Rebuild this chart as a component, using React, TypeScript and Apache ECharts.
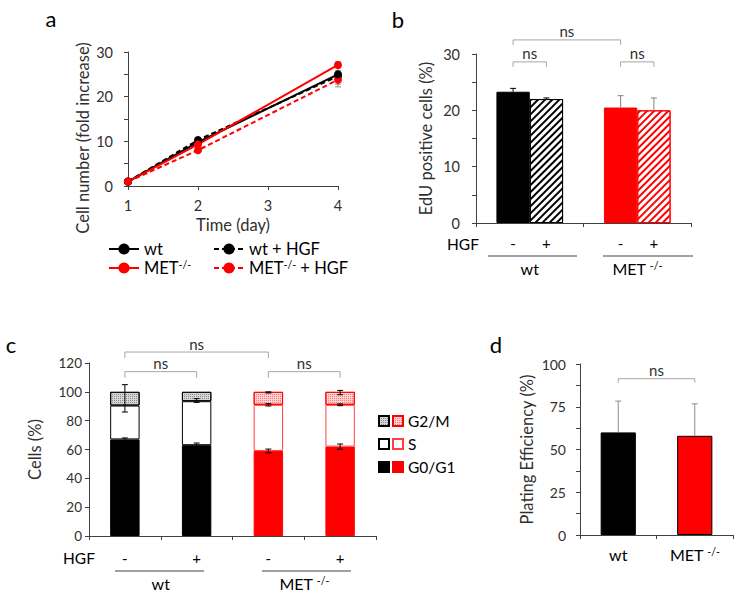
import React, { useEffect, useRef } from 'react';
import * as echarts from 'echarts';

const FONT = 'Lato, "Open Sans", sans-serif';
const AX = '#404040';
const TXT = '#303030';
const RED = '#ff0000';
const BR = '#a6a6a6';
const NAME_FS = 16.5;

// ---------- Panel a ----------
const aDays = [1, 2, 4];
const aWt = [1, 9.8, 25.0];
const aWtHGF = [1, 10.3, 24.6];
const aMet = [1, 9.3, 27.1];
const aMetHGF = [1, 8.0, 23.8];
const aWtErr = [0.1, 0.4, 2.8];
const aWtHGFErr = [0.1, 0.4, 1.2];
const aMetErr = [0.1, 0.5, 0.7];
const aMetHGFErr = [0.1, 0.4, 1.0];

// ---------- Panel b ----------
const bGroups = ['wt', 'MET -/-'];
const bNoHGF = [23.3, 20.5];
const bNoHGFErr = [0.6, 2.1];
const bHGF = [22.0, 20.0];
const bHGFErr = [0.2, 2.2];
const bMarks = ['-', '+'];
// [cat1, bar1, cat2, bar2, y]
const bBrackets = [
  [0, 0, 1, 0, 32.5],
  [0, 0, 0, 1, 28.6],
  [1, 0, 1, 1, 28.6],
];

// ---------- Panel c ----------
const cConditions = ['wt -', 'wt +', 'MET -', 'MET +'];
const cHGF = ['-', '+', '-', '+'];
const cGroups = ['wt', 'MET -/-'];
const cWtG0 = [67, 63, null, null];
const cWtS = [23.5, 30.5, null, null];
const cWtG2 = [9.5, 6.5, null, null];
const cMetG0 = [null, null, 59, 62];
const cMetS = [null, null, 32, 29];
const cMetG2 = [null, null, 9, 9];
// [category, centre, error]
const cErr = [
  [0, 67, 1.0], [0, 95.5, 9.5],
  [1, 63, 1.5], [1, 94, 1.3],
  [2, 59, 1.3], [2, 91, 0.8], [2, 99.6, 0.4],
  [3, 62, 1.8], [3, 91, 0.6], [3, 99.5, 1.5],
];
const cBrackets = [
  [0, 0, 2, 0, 127.6],
  [0, 0, 1, 0, 114],
  [2, 0, 3, 0, 114],
];
const cLegend = ['G2/M', 'S', 'G0/G1'];

// ---------- Panel d ----------
const dGroups = ['wt', 'MET -/-'];
const dVals = [60, 58];
const dErr = [18.3, 18.7];
const dBrackets = [[0, 0, 1, 0, 91.4]];

const supFmt = (s: string) => s.replace('-/-', '{sup|-/-}');
const rich = { sup: { fontSize: 10.5, lineHeight: 8, verticalAlign: 'top', fontFamily: FONT, color: '#000' } };

const lineStyle = { color: AX, width: 1 };
const tick = { show: true, length: 4, lineStyle };
const lab = { color: TXT, fontSize: 14.5, fontFamily: FONT };
const nameStyle = { fontSize: NAME_FS, color: TXT, fontFamily: FONT };

const B_W = 0.31;
const bOff = [-B_W / 2, B_W / 2];

const hatch = (color: string) => ({
  symbol: 'rect', symbolSize: 1, color, dashArrayX: [1, 0], dashArrayY: [2, 3], rotation: -Math.PI / 4,
});
const dots = (color: string) => ({
  symbol: 'rect', symbolSize: 1, color, dashArrayX: [1, 1], dashArrayY: [1, 1], rotation: 0,
});

function errRender(color: string, cap: number, upOnly: boolean, offsets?: number[]) {
  return (params: any, api: any) => {
    const cat = api.value(0);
    const v = api.value(1);
    const e = api.value(2);
    const bi = api.value(3);
    const band = offsets ? api.size([1, 0])[0] : 0;
    const off = offsets ? offsets[bi] * band : 0;
    const p = api.coord([cat, v]);
    const hi = api.coord([cat, v + e]);
    const lo = upOnly ? p : api.coord([cat, v - e]);
    const x = p[0] + off;
    const st = { stroke: color, lineWidth: 1 };
    const kids: any[] = [
      { type: 'line', shape: { x1: x, y1: lo[1], x2: x, y2: hi[1] }, style: st },
      { type: 'line', shape: { x1: x - cap, y1: hi[1], x2: x + cap, y2: hi[1] }, style: st },
    ];
    if (!upOnly) kids.push({ type: 'line', shape: { x1: x - cap, y1: lo[1], x2: x + cap, y2: lo[1] }, style: st });
    return { type: 'group', children: kids };
  };
}

function bracketRender(tickLen: number) {
  return (params: any, api: any) => {
    const band = api.size([1, 0])[0];
    const y = api.value(4);
    const p1 = api.coord([api.value(0), y]);
    const p2 = api.coord([api.value(2), y]);
    const x1 = p1[0] + api.value(1) * band;
    const x2 = p2[0] + api.value(3) * band;
    const yy = p1[1];
    return {
      type: 'group',
      children: [
        {
          type: 'polyline',
          shape: { points: [[x1, yy + tickLen], [x1, yy], [x2, yy], [x2, yy + tickLen]] },
          style: { stroke: BR, fill: null, lineWidth: 1 },
        },
        {
          type: 'text',
          x: (x1 + x2) / 2,
          y: yy - 1,
          style: {
            text: 'ns', fill: TXT, fontSize: 15, fontFamily: FONT,
            textAlign: 'center', textVerticalAlign: 'bottom', align: 'center', verticalAlign: 'bottom',
          },
        },
      ],
    };
  };
}

function pairs(xs: number[], ys: number[]) {
  return xs.map((x, i) => [x, ys[i]]);
}

function buildOption(): any {
  const lineSeries = (name: string, ys: number[], color: string, dashed: boolean) => ({
    name, type: 'line', xAxisIndex: 0, yAxisIndex: 0, data: pairs(aDays, ys),
    symbol: 'circle', symbolSize: 8, itemStyle: { color },
    lineStyle: { color, width: 2, type: dashed ? [5, 3] : 'solid' }, z: 3,
  });
  const aErrSeries = (name: string, ys: number[], es: number[]) => ({
    name, type: 'custom', xAxisIndex: 0, yAxisIndex: 0, z: 2, silent: true,
    data: aDays.map((d, i) => [d, ys[i], es[i], 0]),
    encode: { x: 0, y: 1 },
    renderItem: errRender('#8c8c8c', 3, false),
  });
  const cBar = (name: string, data: (number | null)[], style: any) => ({
    name, type: 'bar', stack: 'c', xAxisIndex: 2, yAxisIndex: 2, barWidth: '41%',
    data: data.map((v) => (v == null ? '-' : v)), itemStyle: style,
  });

  const legendA = (left: number, data: string[]) => ({
    left, top: 240, orient: 'vertical', itemWidth: 30, itemHeight: 14, itemGap: 1, padding: 0,
    data, selectedMode: false, formatter: supFmt,
    textStyle: { fontSize: 16.5, lineHeight: 18, fontFamily: FONT, color: '#000', rich },
  });
  const legendC = (left: number, data: string[], withText: boolean) => ({
    left, top: 412, orient: 'vertical', itemWidth: 10, itemHeight: 10, itemGap: 5, padding: 0,
    icon: 'rect', data, selectedMode: false,
    formatter: withText ? (n: string) => n.replace('MET ', '') : () => ' ',
    textStyle: { fontSize: 15.5, lineHeight: 18, fontFamily: FONT, color: '#000' },
  });

  return {
    animation: false,
    backgroundColor: '#fff',
    grid: [
      { left: 128, top: 52, width: 210, height: 134, outerBoundsMode: 'none' },
      { left: 476, top: 54, width: 215, height: 169, outerBoundsMode: 'none' },
      { left: 89, top: 363, width: 287, height: 173, outerBoundsMode: 'none' },
      { left: 580, top: 364, width: 153, height: 171, outerBoundsMode: 'none' },
    ],
    legend: [
      legendA(108, ['wt', 'MET-/-']),
      legendA(213, ['wt + HGF', 'MET-/- + HGF']),
      legendC(378, cLegend.map((s) => 'wt ' + s), false),
      legendC(392, cLegend.map((s) => 'MET ' + s), true),
    ],
    xAxis: [
      {
        gridIndex: 0, type: 'value', min: 1, max: 4, interval: 1,
        axisLine: { show: true, onZero: false, lineStyle }, axisTick: tick,
        axisLabel: { ...lab, margin: 12 }, splitLine: { show: false },
        name: 'Time (day)', nameLocation: 'middle', nameGap: 30, nameTextStyle: nameStyle,
      },
      {
        gridIndex: 1, type: 'category', data: bGroups,
        axisLine: { show: true, lineStyle }, axisTick: tick,
        axisLabel: { ...lab, interval: 0, fontSize: 16, color: '#000', margin: 37, formatter: supFmt, rich },
      },
      {
        gridIndex: 2, type: 'category', data: cConditions,
        axisLine: { show: true, lineStyle }, axisTick: tick,
        axisLabel: { ...lab, interval: 0, fontSize: 15, color: '#000', margin: 14, formatter: (_v: string, i: number) => cHGF[i] },
      },
      {
        gridIndex: 2, type: 'category', data: cGroups, position: 'bottom', offset: 0,
        axisLine: { show: false }, axisTick: { show: false },
        axisLabel: { ...lab, interval: 0, fontSize: 16, color: '#000', margin: 39, formatter: supFmt, rich },
      },
      {
        gridIndex: 3, type: 'category', data: dGroups,
        axisLine: { show: true, lineStyle }, axisTick: tick,
        axisLabel: { ...lab, interval: 0, fontSize: 16, color: '#000', margin: 11, formatter: supFmt, rich },
      },
    ],
    yAxis: [
      {
        gridIndex: 0, type: 'value', min: 0, max: 30, interval: 10,
        axisLine: { show: true, lineStyle }, axisTick: tick,
        minorTick: { show: true, splitNumber: 2, length: 4, lineStyle },
        axisLabel: { ...lab, margin: 15 }, splitLine: { show: false }, minorSplitLine: { show: false },
      },
      {
        gridIndex: 1, type: 'value', min: 0, max: 30, interval: 10,
        axisLine: { show: true, lineStyle }, axisTick: tick,
        minorTick: { show: true, splitNumber: 2, length: 4, lineStyle },
        axisLabel: { ...lab, margin: 16 }, splitLine: { show: false }, minorSplitLine: { show: false },
        name: 'EdU positive cells (%)', nameLocation: 'middle', nameGap: 42, nameTextStyle: nameStyle,
      },
      {
        gridIndex: 2, type: 'value', min: 0, max: 120, interval: 20,
        axisLine: { show: true, lineStyle }, axisTick: tick,
        axisLabel: { ...lab, fontSize: 13.5, margin: 7 }, splitLine: { show: false },
        name: 'Cells (%)', nameLocation: 'middle', nameGap: 46, nameTextStyle: nameStyle,
      },
      {
        gridIndex: 3, type: 'value', min: 0, max: 100, interval: 25,
        axisLine: { show: true, lineStyle }, axisTick: tick,
        minorTick: { show: true, splitNumber: 2, length: 4, lineStyle },
        axisLabel: { ...lab, fontSize: 14, margin: 14 }, splitLine: { show: false }, minorSplitLine: { show: false },
        name: 'Plating Efficiency (%)', nameLocation: 'middle', nameGap: 45, nameTextStyle: nameStyle,
      },
    ],
    series: [
      // Panel a
      aErrSeries('err wt', aWt, aWtErr),
      aErrSeries('err wt HGF', aWtHGF, aWtHGFErr),
      aErrSeries('err met', aMet, aMetErr),
      aErrSeries('err met HGF', aMetHGF, aMetHGFErr),
      lineSeries('wt + HGF', aWtHGF, '#000', true),
      lineSeries('MET-/- + HGF', aMetHGF, RED, true),
      lineSeries('wt', aWt, '#000', false),
      lineSeries('MET-/-', aMet, RED, false),

      // Panel b
      {
        name: 'b no HGF', type: 'bar', xAxisIndex: 1, yAxisIndex: 1, barWidth: B_W * 100 + '%', barGap: '0%',
        data: bNoHGF.map((v, i) => ({
          value: v,
          itemStyle: { color: i ? RED : '#000', borderColor: i ? RED : '#000', borderWidth: 1 },
        })),
        label: { show: true, position: 'bottom', distance: 12, formatter: bMarks[0], fontSize: 15, fontFamily: FONT, color: '#000' },
      },
      {
        name: 'b HGF', type: 'bar', xAxisIndex: 1, yAxisIndex: 1, barWidth: B_W * 100 + '%', barGap: '0%',
        data: bHGF.map((v, i) => ({
          value: v,
          itemStyle: {
            color: '#fff', borderColor: i ? RED : '#000', borderWidth: 1,
            decal: hatch(i ? RED : '#000'),
          },
        })),
        label: { show: true, position: 'bottom', distance: 12, formatter: bMarks[1], fontSize: 15, fontFamily: FONT, color: '#000' },
      },
      {
        name: 'b err', type: 'custom', xAxisIndex: 1, yAxisIndex: 1, z: 4, silent: true,
        data: [
          ...bNoHGF.map((v, i) => [i, v, bNoHGFErr[i], 0]),
          ...bHGF.map((v, i) => [i, v, bHGFErr[i], 1]),
        ],
        encode: { x: 0, y: 1 },
        renderItem: (params: any, api: any) => {
          const color = api.value(0) === 0 ? '#000' : '#808080';
          return errRender(color, 3, true, bOff)(params, api);
        },
      },
      {
        name: 'b brackets', type: 'custom', xAxisIndex: 1, yAxisIndex: 1, z: 4, silent: true,
        data: bBrackets.map((b) => [b[0], bOff[b[1]], b[2], bOff[b[3]], b[4]]),
        encode: { x: 0, y: 4 },
        renderItem: bracketRender(5),
      },

      // Panel c
      cBar('wt G0/G1', cWtG0, { color: '#000', borderColor: '#000', borderWidth: 1 }),
      cBar('wt S', cWtS, { color: '#fff', borderColor: '#000', borderWidth: 1 }),
      cBar('wt G2/M', cWtG2, { color: '#d6d6d6', borderColor: '#000', borderWidth: 1, decal: dots('#8a8a8a') }),
      cBar('MET G0/G1', cMetG0, { color: RED, borderColor: RED, borderWidth: 1 }),
      cBar('MET S', cMetS, { color: '#fff', borderColor: '#ff4040', borderWidth: 1 }),
      cBar('MET G2/M', cMetG2, { color: '#ffd2d2', borderColor: RED, borderWidth: 1, decal: dots('#ff7a7a') }),
      {
        name: 'c err', type: 'custom', xAxisIndex: 2, yAxisIndex: 2, z: 4, silent: true,
        data: cErr.map((e) => [e[0], e[1], e[2], 0]),
        encode: { x: 0, y: 1 },
        renderItem: errRender('#000', 3, false),
      },
      {
        name: 'c brackets', type: 'custom', xAxisIndex: 2, yAxisIndex: 2, z: 4, silent: true,
        data: cBrackets,
        encode: { x: 0, y: 4 },
        renderItem: bracketRender(6),
      },

      // Panel d
      {
        name: 'd bars', type: 'bar', xAxisIndex: 4, yAxisIndex: 3, barWidth: '46%',
        data: dVals.map((v, i) => ({
          value: v, itemStyle: { color: i ? RED : '#000', borderColor: '#000', borderWidth: 1 },
        })),
      },
      {
        name: 'd err', type: 'custom', xAxisIndex: 4, yAxisIndex: 3, z: 4, silent: true,
        data: dVals.map((v, i) => [i, v, dErr[i], 0]),
        encode: { x: 0, y: 1 },
        renderItem: errRender('#8c8c8c', 3, true),
      },
      {
        name: 'd brackets', type: 'custom', xAxisIndex: 4, yAxisIndex: 3, z: 4, silent: true,
        data: dBrackets,
        encode: { x: 0, y: 4 },
        renderItem: bracketRender(4),
      },
    ],
    graphic: [
      ...[
        ['a', 51, 18], ['b', 398, 19], ['c', 11, 344], ['d', 496, 344],
      ].map(([t, x, y]) => ({
        type: 'text', x, y,
        style: {
          text: t, fontSize: 22, fontFamily: FONT, fill: '#000',
          textAlign: 'center', textVerticalAlign: 'middle', align: 'center', verticalAlign: 'middle',
        },
      })),
      {
        type: 'text', x: 82.5, y: 138, rotation: Math.PI / 2,
        style: {
          text: 'Cell number (fold increase)', fontSize: NAME_FS, fontFamily: FONT, fill: TXT,
          textAlign: 'center', textVerticalAlign: 'middle', align: 'center', verticalAlign: 'middle',
        },
      },
      ...[[463, 244], [79, 558]].map(([x, y]) => ({
        type: 'text', x, y,
        style: {
          text: 'HGF', fontSize: 15.5, fontFamily: FONT, fill: '#000',
          textAlign: 'center', textVerticalAlign: 'middle', align: 'center', verticalAlign: 'middle',
        },
      })),
      ...[
        [488, 577, 256], [603, 693, 256], [115, 204, 571], [262, 351, 571],
      ].map(([x1, x2, y]) => ({
        type: 'line', shape: { x1, y1: y, x2, y2: y }, style: { stroke: AX, lineWidth: 1 },
      })),
    ],
  };
}

export default function App() {
  const ref = useRef<HTMLDivElement>(null);
  useEffect(() => {
    const chart = echarts.init(ref.current as HTMLDivElement, null, { renderer: 'svg' });
    chart.setOption(buildOption());
    return () => chart.dispose();
  }, []);
  return (
    <div
      ref={ref}
      style={{ position: 'absolute', left: 0, top: 0, width: 740, height: 599, background: '#fff' }}
    />
  );
}
